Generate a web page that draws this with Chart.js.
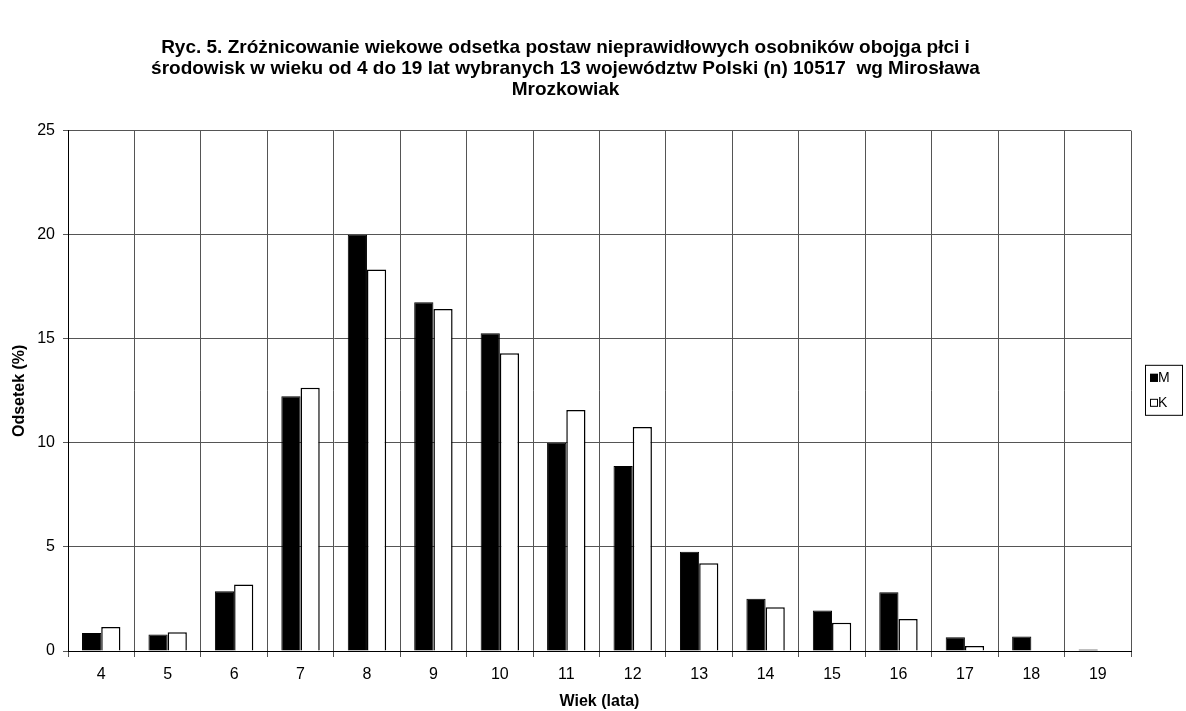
<!DOCTYPE html>
<html>
<head>
<meta charset="utf-8">
<script src="https://cdn.jsdelivr.net/npm/chart.js@4.4.1/dist/chart.umd.min.js"></script>
<style>
  body { margin: 0; background: #fff; }
</style>
</head>
<body>
<canvas id="wykres" width="1186" height="711"></canvas>
<script>
// dane
const wiek = ['4', '5', '6', '7', '8', '9', '10', '11', '12', '13', '14', '15', '16', '17', '18', '19'];
const chlopcy = [0.86, 0.79, 2.87, 12.24, 20.0, 16.76, 15.26, 10.0, 8.89, 4.77, 2.51, 1.95, 2.82, 0.66, 0.70, 0.07];
const dziewczeta = [1.15, 0.90, 3.20, 12.65, 18.33, 16.43, 14.30, 11.58, 10.76, 4.21, 2.10, 1.36, 1.54, 0.24, 0, 0];
const etykiety = ['M', 'K'];
const tytul = [
    'Ryc. 5. Zróżnicowanie wiekowe odsetka postaw nieprawidłowych osobników obojga płci i',
    'środowisk w wieku od 4 do 19 lat wybranych 13 województw Polski (n) 10517  wg Mirosława',
    'Mrozkowiak'
];

const FONT = 'Arial, "Liberation Sans", sans-serif';
Chart.defaults.color = '#000';
Chart.defaults.font.family = FONT;

// legenda w ramce jak w Excelu
const legendaRamka = {
    id: 'legendaRamka',
    afterDraw(chart) {
        const c = chart.ctx;
        const a = chart.chartArea;
        const x = a.right + 14, w = 37, h = 50;
        const y = (a.top + a.bottom) / 2 - h / 2 - 1;
        c.save();
        c.strokeStyle = '#000';
        c.lineWidth = 1;
        c.strokeRect(x + 0.5, y + 0.5, w, h);
        c.font = '14px ' + FONT;
        c.textBaseline = 'middle';
        chart.data.datasets.forEach((ds, i) => {
            const cy = y + 13 + i * 25;
            c.fillStyle = ds.backgroundColor;
            c.fillRect(x + 5, cy - 4, 8, 8);
            c.strokeStyle = '#000';
            c.strokeRect(x + 5.5, cy - 3.5, 7, 7);
            c.fillStyle = '#000';
            c.fillText(ds.label, x + 13, cy);
        });
        c.restore();
    }
};

new Chart(document.getElementById('wykres').getContext('2d'), {
    type: 'bar',
    data: {
        labels: wiek,
        datasets: [{
            label: etykiety[0],
            data: chlopcy,
            backgroundColor: '#000',
            borderColor: '#000',
            borderWidth: 1
        }, {
            label: etykiety[1],
            data: dziewczeta,
            backgroundColor: '#fff',
            borderColor: '#000',
            borderWidth: 1.5
        }]
    },
    options: {
        responsive: false,
        animation: false,
        categoryPercentage: 0.578,
        barPercentage: 1,
        layout: { padding: { left: 0, right: 55, top: 0, bottom: 0 } },
        plugins: {
            legend: { display: false },
            tooltip: { enabled: false },
            title: {
                display: true,
                text: tytul,
                font: { size: 19, weight: 'bold', lineHeight: 1.09 },
                padding: { top: 37.5, bottom: 31 }
            }
        },
        scales: {
            x: {
                afterFit(scale) { scale.height = 60; },
                grid: {
                    offset: true,
                    color: '#555',
                    tickLength: 6
                },
                border: { color: '#000' },
                ticks: { font: { size: 16 }, padding: 8 },
                title: {
                    display: true,
                    text: 'Wiek (lata)',
                    font: { size: 16, weight: 'bold' },
                    padding: { top: 0, bottom: 0 }
                }
            },
            y: {
                min: 0,
                max: 25,
                afterFit(scale) { scale.width = 68; },
                grid: {
                    color: '#555',
                    tickLength: 5
                },
                border: { color: '#000' },
                ticks: { stepSize: 5, font: { size: 16 }, padding: 8 },
                title: {
                    display: true,
                    text: 'Odsetek (%)',
                    font: { size: 16, weight: 'bold' },
                    padding: { top: 10, bottom: 0 }
                }
            }
        }
    },
    plugins: [legendaRamka]
});
</script>
</body>
</html>
